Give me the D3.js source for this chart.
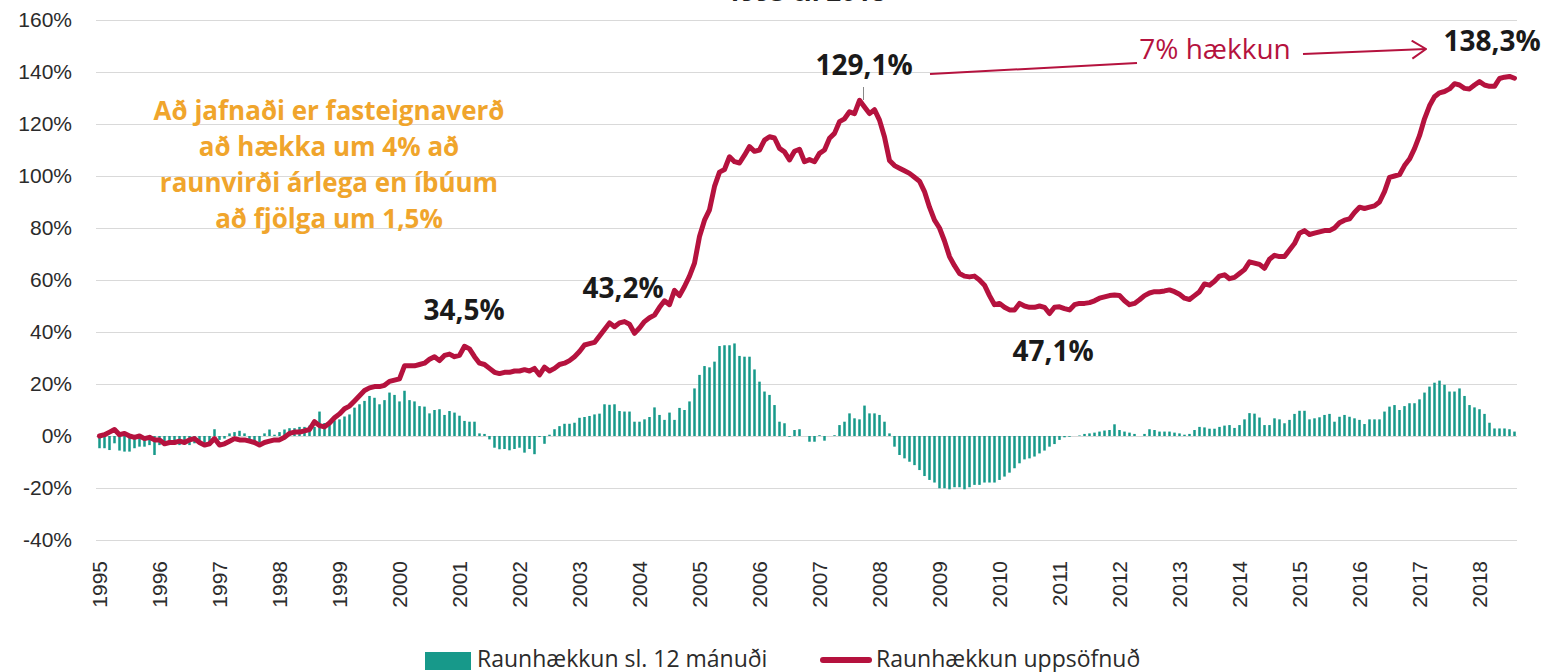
<!DOCTYPE html>
<html>
<head>
<meta charset="utf-8">
<script src="https://cdn.jsdelivr.net/npm/d3@7"></script>
<style>
    body { margin: 0; background: #fff; }
    svg { display: block; font-family: "Open Sans", "Noto Sans", sans-serif; }
    .grid line { stroke: #d9d9d9; stroke-width: 1.5; shape-rendering: crispEdges; }
    .grid path, .xaxis path { stroke-width: 0; }
    .grid text, .xaxis text { fill: #2b2b2b; font-size: 21px; }
</style>
</head>
<body>
<script>
    // tick labels on the x axis, one per january
    var yearLabels = ["1995","1996","1997","1998","1999","2000","2001","2002","2003","2004","2005","2006",
                      "2007","2008","2009","2010","2011","2012","2013","2014","2015","2016","2017","2018"];
    var yTicks = [-40, -20, 0, 20, 40, 60, 80, 100, 120, 140, 160];

    // Raunhækkun uppsöfnuð (%), monthly from jan 1995 to aug 2018
    var cumulative = [
        0.0, 0.5, 1.5, 2.5, 0.5, 1.0, 0.0, -0.5, 0.0, -1.0, -0.5, -1.5,
        -1.5, -3.0, -2.5, -2.5, -2.0, -2.5, -1.5, -1.0, -2.5, -3.5, -3.0, -1.0,
        -3.5, -3.0, -2.0, -1.0, -1.5, -1.5, -2.0, -2.5, -3.5, -2.5, -2.0, -1.5,
        -1.5, -0.5, 1.0, 1.5, 1.5, 2.0, 2.5, 5.5, 4.0, 3.5, 5.0, 7.0,
        8.5, 10.5, 11.5, 13.5, 15.5, 17.5, 18.5, 19.0, 19.0, 19.5, 21.0, 21.5,
        22.0, 27.0, 27.0, 27.0, 27.5, 28.0, 29.5, 30.5, 29.0, 31.0, 31.5, 30.5,
        31.0, 34.5, 33.5, 30.5, 28.0, 27.5, 26.0, 24.5, 24.0, 24.5, 24.5, 25.0,
        25.0, 25.5, 25.0, 26.0, 23.5, 26.5, 25.0, 26.0, 27.5, 28.0, 29.0, 30.5,
        32.5, 35.0, 35.5, 36.0, 38.5, 41.0, 43.5, 42.0, 43.5, 44.0, 43.0, 39.5,
        41.5, 44.0, 45.5, 46.5, 49.5, 52.0, 50.5, 56.0, 54.0, 57.5, 61.5, 66.5,
        76.7, 83.0, 87.0, 96.0, 101.5, 102.5, 107.4, 105.5, 105.0, 108.0, 111.3, 109.5,
        110.0, 113.8, 115.1, 114.6, 110.6, 109.3, 106.2, 109.5, 110.3, 105.5, 106.3, 105.5,
        108.7, 110.0, 114.5, 116.4, 120.9, 122.0, 124.7, 124.0, 129.1, 126.5, 124.0, 125.5,
        121.5, 115.0, 106.0, 104.0, 103.0, 102.0, 101.0, 99.5, 98.0, 94.0, 88.0, 83.0,
        80.0, 75.0, 69.0, 65.5, 62.5, 61.5, 61.2, 61.5, 60.0, 58.0, 54.0, 50.5,
        51.0, 49.5, 48.5, 48.5, 51.0, 50.0, 49.5, 49.5, 50.0, 49.5, 47.1, 49.5,
        49.7, 49.0, 48.5, 50.5, 51.0, 51.0, 51.3, 52.0, 53.0, 53.5, 54.0, 54.2,
        54.0, 52.0, 50.5, 51.0, 52.4, 54.0, 55.0, 55.5, 55.5, 55.8, 56.2, 55.5,
        54.5, 53.0, 52.5, 54.0, 55.5, 58.5, 58.0, 59.5, 61.5, 62.0, 60.5, 61.0,
        62.5, 64.0, 67.0, 66.5, 66.0, 64.5, 68.0, 69.5, 69.0, 69.0, 71.5, 74.0,
        78.0, 79.0, 77.5, 78.0, 78.5, 79.0, 79.0, 80.0, 82.0, 83.0, 83.5, 86.0,
        88.0, 87.5, 88.0, 88.5, 90.0, 94.0, 99.5, 100.0, 100.5, 104.0, 106.5, 110.5,
        115.5, 122.0, 127.0, 130.5, 132.0, 132.5, 133.5, 135.5, 135.0, 133.7, 133.5, 135.0,
        136.3, 135.0, 134.5, 134.5, 137.5, 138.0, 138.3, 137.6
    ];

    // Raunhækkun sl. 12 mánuði (%), same months
    var last12 = [
        -4.7, -4.7, -5.4, -2.8, -5.6, -6.0, -6.0, -4.7, -4.1, -4.1, -3.5, -7.3,
        -3.5, -2.8, -3.1, -2.8, -3.5, -2.8, -3.5, -2.8, -3.1, -2.6, -2.8, 2.6,
        -1.5, -1.0, 1.0, 1.5, 2.0, 1.0, -1.5, -2.0, -2.5, 1.0, 2.5, 0.5,
        1.5, 2.5, 3.0, 3.0, 3.5, 3.5, 4.0, 3.5, 9.4, 5.0, 5.0, 6.0,
        6.4, 7.5, 8.3, 10.9, 12.2, 13.5, 15.4, 14.7, 12.2, 13.8, 16.7, 15.8,
        13.3, 17.4, 13.8, 13.3, 11.5, 11.3, 8.7, 10.0, 10.3, 8.1, 9.6, 9.0,
        7.8, 5.8, 5.5, 5.5, 1.0, 0.8, -1.3, -4.5, -5.1, -5.0, -5.5, -5.0,
        -4.5, -6.4, -5.0, -7.0, -0.4, -3.0, 0.5, 2.6, 3.8, 4.7, 4.7, 5.1,
        7.0, 7.3, 7.7, 8.3, 8.6, 12.2, 12.0, 12.2, 9.6, 9.4, 9.4, 5.5,
        5.5, 6.4, 7.3, 11.0, 8.1, 6.2, 9.0, 6.2, 10.8, 10.0, 13.3, 18.3,
        23.5, 26.9, 26.4, 28.6, 34.6, 34.9, 34.9, 35.6, 30.8, 30.5, 30.5, 25.6,
        20.9, 17.1, 15.8, 11.9, 5.5, 4.9, -0.3, 2.3, 2.6, 0.0, -2.2, -2.2,
        0.3, -1.8, 0.0, 0.3, 4.2, 5.5, 8.7, 6.8, 6.4, 11.7, 8.7, 8.7,
        8.1, 5.5, 1.0, -4.1, -7.3, -8.6, -9.9, -11.2, -13.1, -15.4, -16.9, -17.9,
        -20.1, -20.1, -20.5, -19.7, -19.7, -20.5, -19.7, -18.8, -18.8, -17.9, -17.9, -17.9,
        -16.9, -15.6, -14.1, -12.4, -10.5, -9.0, -8.6, -7.9, -6.7, -5.6, -4.1, -3.1,
        -1.5, -0.5, -0.3, 0.0, 0.2, 0.8, 1.0, 1.3, 1.7, 2.1, 2.3, 4.5,
        2.3, 1.7, 1.3, 0.8, 0.0, 0.8, 2.6, 2.3, 1.7, 1.7, 1.7, 1.3,
        1.0, 0.5, 0.8, 2.3, 3.5, 3.3, 2.8, 2.8, 3.5, 4.0, 4.2, 3.1,
        4.2, 6.4, 8.8, 8.6, 7.1, 4.2, 4.2, 6.8, 6.4, 4.9, 6.2, 8.5,
        9.7, 9.7, 6.4, 6.8, 7.2, 8.1, 8.5, 5.5, 7.4, 8.1, 7.4, 6.8,
        6.2, 4.6, 6.4, 6.4, 6.4, 9.4, 11.3, 11.9, 10.0, 11.5, 12.6, 12.6,
        14.1, 16.7, 19.0, 20.5, 21.3, 19.7, 17.1, 17.1, 18.3, 15.4, 11.9, 11.0,
        10.3, 8.5, 5.1, 2.9, 2.9, 2.9, 2.6, 1.7
    ];

    var barColor = "#17998a",
        lineColor = "#b5123e",
        noteColor = "#f0a52c";

    var svgWidth = 1545,
        svgHeight = 672;
    var svg = d3.select("body").append("svg")
        .attr("width", svgWidth)
        .attr("height", svgHeight);

    // plot frame (window.top is reserved, hence the prefix)
    var plotLeft = 96, plotRight = 1517, plotTop = 20, plotBottom = 540;

    var x = d3.scaleBand()
        .domain(d3.range(cumulative.length))
        .range([97, 1517])
        .paddingInner(0.5)
        .paddingOuter(0.25);
    var y = d3.scaleLinear().domain([-40, 160]).range([plotBottom, plotTop]);
    var mid = x.bandwidth() / 2;

    // title, mostly outside the frame
    svg.append("text")
        .attr("x", 806).attr("y", 1)
        .attr("text-anchor", "middle")
        .style("font-size", "26px").style("font-weight", "bold").style("fill", "#222")
        .text("1995 til 2018");

    // grid + y labels
    svg.append("g")
        .attr("class", "grid")
        .attr("transform", "translate(" + plotLeft + ",0)")
        .call(d3.axisLeft(y)
            .tickValues(yTicks)
            .tickSize(-(plotRight - plotLeft))
            .tickPadding(24)
            .tickFormat(function(d) { return d + "%"; }));

    // x axis labels
    var xAxis = svg.append("g")
        .attr("class", "xaxis")
        .attr("transform", "translate(0," + plotBottom + ")")
        .call(d3.axisBottom(x)
            .tickValues(d3.range(0, cumulative.length, 12))
            .tickSize(0)
            .tickFormat(function(i) { return yearLabels[i / 12]; }));
    xAxis.selectAll("text")
        .attr("transform", "rotate(-90)")
        .attr("x", -21).attr("y", 0).attr("dy", "0.35em")
        .attr("text-anchor", "end");

    // bars
    svg.append("g").selectAll("rect")
        .data(last12)
        .enter().append("rect")
        .attr("x", function(d, i) { return x(i); })
        .attr("width", x.bandwidth())
        .attr("y", function(d) { return y(Math.max(0, d)); })
        .attr("height", function(d) { return Math.abs(y(d) - y(0)); })
        .attr("fill", barColor);

    // line
    var line = d3.line()
        .x(function(d, i) { return x(i) + mid; })
        .y(function(d) { return y(d); });
    svg.append("path")
        .datum(cumulative)
        .attr("d", line)
        .attr("fill", "none")
        .attr("stroke", lineColor)
        .attr("stroke-width", 5)
        .attr("stroke-linejoin", "round")
        .attr("stroke-linecap", "round");

    // value labels
    var labels = svg.append("g")
        .style("font-size", "28px").style("font-weight", "bold").style("fill", "#1a1a1a")
        .attr("text-anchor", "middle");
    labels.append("text").attr("x", 464).attr("y", 320).text("34,5%");
    labels.append("text").attr("x", 623).attr("y", 298).text("43,2%");
    labels.append("text").attr("x", 864).attr("y", 75).text("129,1%");
    labels.append("text").attr("x", 1053).attr("y", 361).text("47,1%");
    labels.append("text").attr("x", 1492).attr("y", 51).text("138,3%");

    svg.append("line")
        .attr("x1", 863.5).attr("x2", 863.5).attr("y1", 87).attr("y2", 100)
        .attr("stroke", "#888").attr("stroke-width", 1);

    // 7% hækkun arrow
    svg.append("defs").append("marker")
        .attr("id", "arrow")
        .attr("viewBox", "0 0 16 20")
        .attr("refX", 15).attr("refY", 10)
        .attr("markerWidth", 16).attr("markerHeight", 20)
        .attr("markerUnits", "userSpaceOnUse")
        .attr("orient", "auto")
        .append("path")
        .attr("d", "M1,1 L15,10 L1,19")
        .attr("fill", "none")
        .attr("stroke", lineColor)
        .attr("stroke-width", 2);

    svg.append("line")
        .attr("x1", 930).attr("y1", 74).attr("x2", 1137).attr("y2", 63)
        .attr("stroke", lineColor).attr("stroke-width", 2);
    svg.append("line")
        .attr("x1", 1303).attr("y1", 54).attr("x2", 1426).attr("y2", 49)
        .attr("stroke", lineColor).attr("stroke-width", 2)
        .attr("marker-end", "url(#arrow)");
    svg.append("text")
        .attr("x", 1215).attr("y", 59)
        .attr("text-anchor", "middle")
        .style("font-size", "28px").style("fill", lineColor)
        .text("7% hækkun");

    // orange note
    var note = ["Að jafnaði er fasteignaverð", "að hækka um 4% að",
                "raunvirði árlega en íbúum", "að fjölga um 1,5%"];
    svg.append("g").selectAll("text")
        .data(note)
        .enter().append("text")
        .attr("x", 329)
        .attr("y", function(d, i) { return 120 + i * 36; })
        .attr("text-anchor", "middle")
        .style("font-size", "26px").style("font-weight", "bold").style("fill", noteColor)
        .text(function(d) { return d; });

    // legend
    var legend = svg.append("g").style("font-size", "23px").style("fill", "#2b2b2b");
    legend.append("rect")
        .attr("x", 425).attr("y", 652).attr("width", 46).attr("height", 18)
        .attr("fill", barColor);
    legend.append("text").attr("x", 477).attr("y", 667).text("Raunhækkun sl. 12 mánuði");
    legend.append("line")
        .attr("x1", 823).attr("x2", 869).attr("y1", 660).attr("y2", 660)
        .attr("stroke", lineColor).attr("stroke-width", 6).attr("stroke-linecap", "round");
    legend.append("text").attr("x", 876).attr("y", 667).text("Raunhækkun uppsöfnuð");
</script>
</body>
</html>
